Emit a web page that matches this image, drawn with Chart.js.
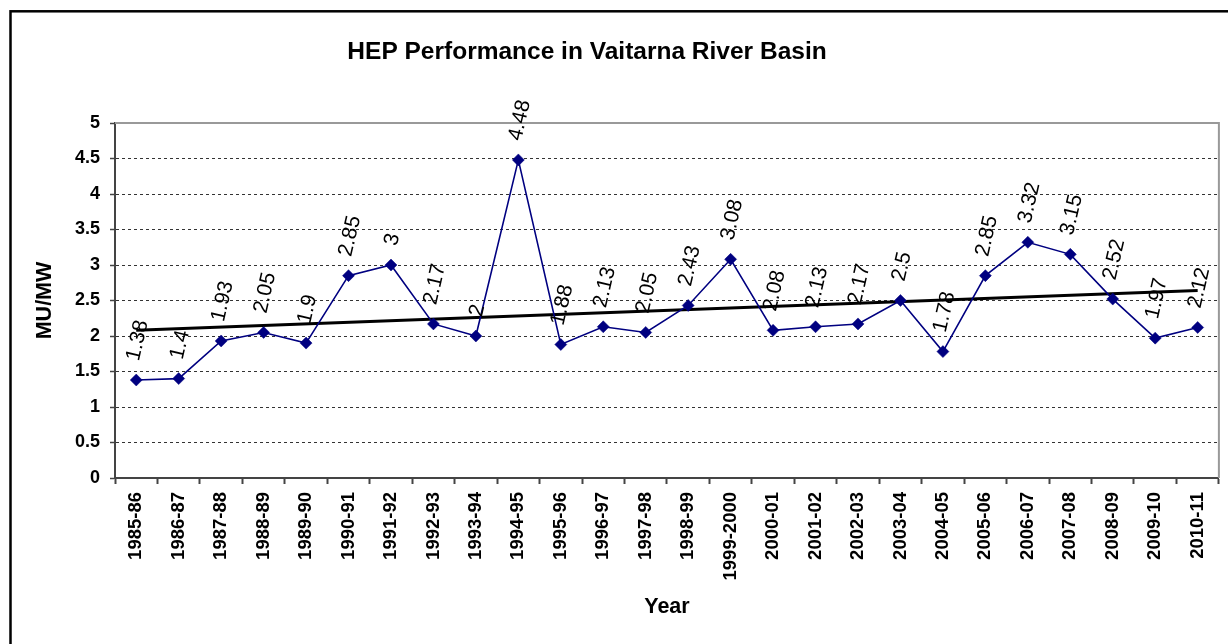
<!DOCTYPE html>
<html>
<head>
<meta charset="utf-8">
<script src="https://cdn.jsdelivr.net/npm/chart.js@4"></script>
<style>
html,body{margin:0;padding:0;background:#fff;}
canvas{display:block;}
</style>
</head>
<body>
<canvas id="grafico" width="1228" height="644"></canvas>
<script>
const anni=["1985-86","1986-87","1987-88","1988-89","1989-90","1990-91","1991-92","1992-93","1993-94","1994-95","1995-96","1996-97","1997-98","1998-99","1999-2000","2000-01","2001-02","2002-03","2003-04","2004-05","2005-06","2006-07","2007-08","2008-09","2009-10","2010-11"];
const valori=[1.38,1.4,1.93,2.05,1.9,2.85,3,2.17,2,4.48,1.88,2.13,2.05,2.43,3.08,2.08,2.13,2.17,2.5,1.78,2.85,3.32,3.15,2.52,1.97,2.12];
// trend line: value at first and last year
const trendEnds=[2.08,2.64];
const yMin=0,yMax=5,yStep=0.5;

const FONT="'Liberation Sans', Arial, sans-serif";
const titolo="HEP Performance in Vaitarna River Basin";

const trendData=anni.map((_,i)=>i===0?trendEnds[0]:(i===anni.length-1?trendEnds[1]:null));

const cornice={
  id:"cornice",
  beforeDatasetsDraw(c){
    const {ctx,chartArea:a}=c;
    ctx.save();
    ctx.strokeStyle="#999";ctx.lineWidth=2;
    ctx.beginPath();
    ctx.moveTo(a.left,a.top);ctx.lineTo(a.right,a.top);ctx.lineTo(a.right,a.bottom);
    ctx.stroke();
    ctx.restore();
  },
  afterDatasetsDraw(c){
    const {ctx}=c;
    const pts=c.getDatasetMeta(0).data;
    const ang=77*Math.PI/180;
    ctx.save();
    ctx.font="21px "+FONT;
    ctx.fillStyle="#000";
    ctx.textAlign="center";ctx.textBaseline="middle";
    pts.forEach((p,i)=>{
      const t=String(valori[i]);
      const w=ctx.measureText(t).width;
      const h=w*Math.sin(ang)+15*Math.cos(ang);
      ctx.save();
      ctx.translate(p.x+1.5,p.y-18-h/2);
      ctx.rotate(-ang);
      ctx.fillText(t,0,0);
      ctx.restore();
    });
    ctx.restore();
  },
  afterDraw(c){
    const {ctx}=c;
    ctx.save();
    ctx.font="bold 24.5px "+FONT;
    ctx.fillStyle="#000";
    ctx.textAlign="center";ctx.textBaseline="alphabetic";
    ctx.fillText(titolo,587,58.5);
    ctx.strokeStyle="#000";ctx.lineWidth=2.5;
    ctx.strokeRect(10.5,11.3,1400,800);
    ctx.restore();
  }
};

new Chart(document.getElementById("grafico"),{
  type:"line",
  data:{
    labels:anni,
    datasets:[
      {data:valori,borderColor:"#000080",backgroundColor:"#000080",borderWidth:1.6,
       pointStyle:"rectRot",pointRadius:6,pointBackgroundColor:"#000080",pointBorderColor:"#000080",
       pointBorderWidth:0.5,tension:0,order:1},
      {data:trendData,borderColor:"#000",borderWidth:3,pointRadius:0,spanGaps:true,tension:0,order:2}
    ]
  },
  options:{
    responsive:false,
    devicePixelRatio:1,
    animation:false,
    layout:{padding:{top:123,right:7,bottom:0,left:0}},
    plugins:{legend:{display:false},title:{display:false},tooltip:{enabled:false}},
    scales:{
      x:{
        offset:true,
        grid:{drawOnChartArea:false,offset:true,tickLength:6,tickColor:"#444",tickWidth:2},
        border:{color:"#444",width:2},
        ticks:{autoSkip:false,maxRotation:90,minRotation:90,padding:8,color:"#000",font:{family:FONT,size:18.5,weight:"bold"}},
        title:{display:true,text:"Year",color:"#000",font:{family:FONT,size:21.5,weight:"bold"},padding:{top:0,bottom:24.1}},
        afterFit(s){s.height=644-478;}
      },
      y:{
        min:yMin,max:yMax,
        grid:{color:"#333",lineWidth:1,tickLength:5,tickColor:"#444",tickWidth:1.5,tickBorderDash:[]},
        border:{color:"#444",width:2,dash:[3,3]},
        ticks:{stepSize:yStep,padding:10,color:"#000",font:{family:FONT,size:18,weight:"bold"},callback:v=>String(v)},
        title:{display:true,text:"MU/MW",color:"#000",font:{family:FONT,size:21.5,weight:"bold"},padding:{top:32,bottom:0}},
        afterFit(s){s.width=115;}
      }
    }
  },
  plugins:[cornice]
});
</script>
</body>
</html>
